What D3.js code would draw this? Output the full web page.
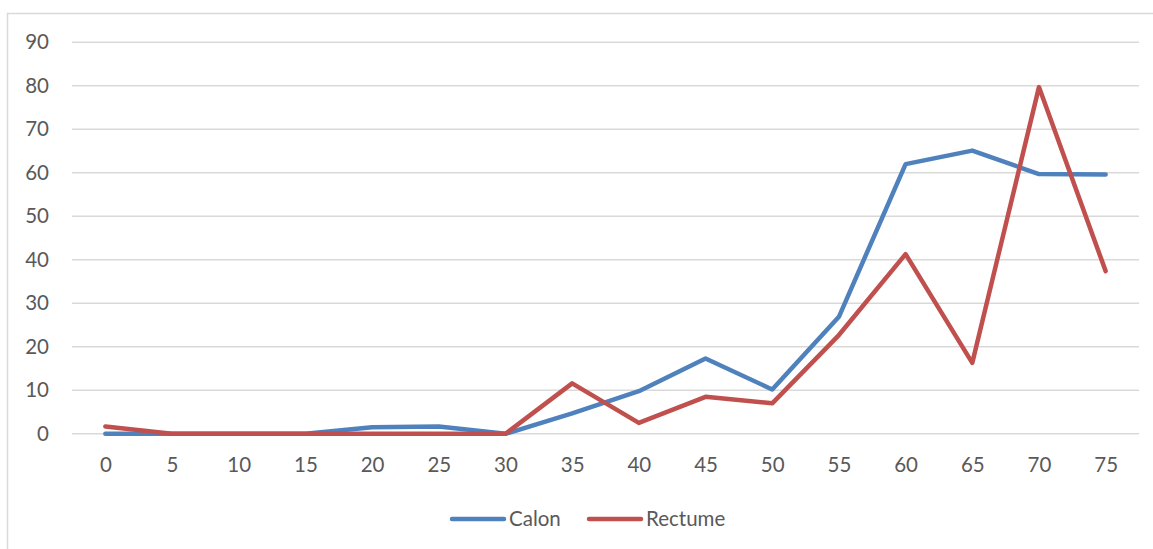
<!DOCTYPE html>
<html>
<head>
<meta charset="utf-8">
<script src="https://cdn.jsdelivr.net/npm/d3@7"></script>
<style>
  html, body { margin: 0; padding: 0; background: #fff; }
  svg { display: block; }
  text { font-family: Lato, "Open Sans", sans-serif; fill: #595959; }
</style>
</head>
<body>
<svg id="chart" width="1153" height="549"></svg>
<script>
// Age groups along the x axis
const categories = ["0","5","10","15","20","25","30","35","40","45","50","55","60","65","70","75"];
// Series values per age group
const calon   = [0, 0, 0, 0, 1.5, 1.7, 0, 4.7, 9.8, 17.3, 10.2, 26.9, 62.0, 65.1, 59.7, 59.6];
const rectume = [1.7, 0, 0, 0, 0, 0, 0, 11.6, 2.5, 8.5, 7.0, 22.7, 41.3, 16.3, 79.7, 37.4];
const yTicks  = [0, 10, 20, 30, 40, 50, 60, 70, 80, 90];
const seriesNames = ["Calon", "Rectume"];
const seriesColors = ["#4F81BD", "#C0504D"];

const svg = d3.select("#chart");
const W = 1153, H = 549;
const FONT = "20.5px";

// Outer chart frame (extends past the right and bottom edges)
svg.append("rect")
  .attr("x", 7.5).attr("y", 13.5)
  .attr("width", W + 20).attr("height", H + 20)
  .attr("fill", "#fff").attr("stroke", "#d9d9d9").attr("stroke-width", 1.5);

const plot = { left: 72, right: 1139, top: 42.3, bottom: 433.8 };

const x = d3.scalePoint().domain(categories).range([plot.left, plot.right]).padding(0.5);
const y = d3.scaleLinear().domain([0, 90]).range([plot.bottom, plot.top]);

// Horizontal gridlines
svg.append("g").selectAll("line").data(yTicks).join("line")
  .attr("x1", plot.left).attr("x2", plot.right)
  .attr("y1", d => y(d)).attr("y2", d => y(d))
  .attr("stroke", "#d9d9d9").attr("stroke-width", 1.5);

// Y axis labels
const yAxis = d3.axisLeft(y).tickValues(yTicks).tickSize(0).tickPadding(0);
const gy = svg.append("g").attr("transform", `translate(49,0)`).call(yAxis);
gy.select(".domain").remove();
gy.selectAll("text").style("font-size", FONT).attr("fill", "#595959")
  .style("font-family", "Lato, 'Open Sans', sans-serif");

// X axis labels
const xAxis = d3.axisBottom(x).tickSize(0).tickPadding(0);
const gx = svg.append("g").attr("transform", `translate(0,${plot.bottom + 24})`).call(xAxis);
gx.select(".domain").remove();
gx.selectAll("text").style("font-size", FONT).attr("fill", "#595959")
  .style("font-family", "Lato, 'Open Sans', sans-serif");

// Series lines
const line = d3.line().x((d, i) => x(categories[i])).y(d => y(d));
[calon, rectume].forEach((vals, k) => {
  svg.append("path")
    .datum(vals)
    .attr("d", line)
    .attr("fill", "none")
    .attr("stroke", seriesColors[k])
    .attr("stroke-width", 4.5)
    .attr("stroke-linejoin", "round")
    .attr("stroke-linecap", "round");
});

// Legend
const legend = svg.append("g");
const legendItems = [
  { name: seriesNames[0], color: seriesColors[0], x0: 450 },
  { name: seriesNames[1], color: seriesColors[1], x0: 587 }
];
legendItems.forEach(it => {
  legend.append("line")
    .attr("x1", it.x0 + 2).attr("x2", it.x0 + 54)
    .attr("y1", 519).attr("y2", 519)
    .attr("stroke", it.color).attr("stroke-width", 4.5)
    .attr("stroke-linecap", "round");
  legend.append("text")
    .attr("x", it.x0 + 59).attr("y", 519)
    .attr("dy", "0.35em")
    .style("font-size", FONT)
    .text(it.name);
});
</script>
</body>
</html>
